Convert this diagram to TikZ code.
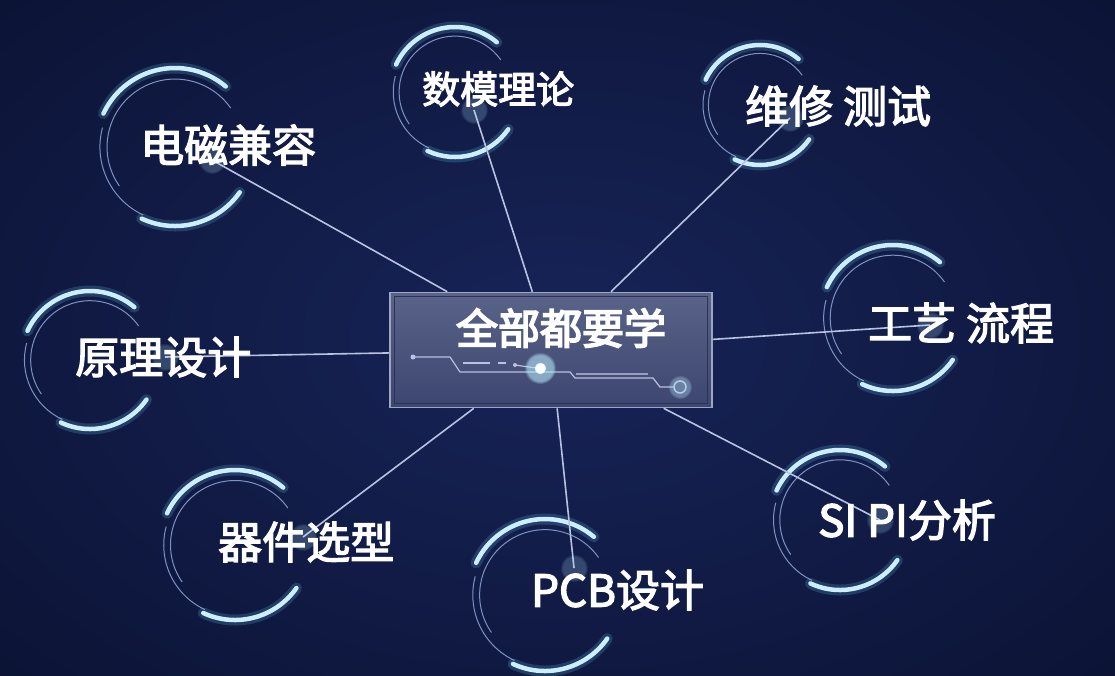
\documentclass[tikz,border=0pt]{standalone}
\usepackage{fontspec}
\usetikzlibrary{fadings}
\newfontfamily\cjk{Noto Sans CJK SC}[FakeBold=3]
\newfontfamily\titlefont{Noto Sans CJK SC}[FakeBold=4]

\definecolor{bgdeep}{HTML}{060B24}
\definecolor{bgmid}{HTML}{172458}
\definecolor{ringcol}{HTML}{CDEEFF}
\definecolor{ringthin}{HTML}{8FA8DA}
\definecolor{wirecol}{HTML}{B9C2E2}
\definecolor{boxtop}{HTML}{5A6388}
\definecolor{boxbot}{HTML}{3C4670}
\definecolor{boxedge}{HTML}{2A3358}

\tikzset{
  ringthick/.style={line width=4.5pt, draw=ringcol, line cap=round},
  ringhalo/.style={line width=11pt, draw=cyan!60!white, opacity=0.2, line cap=round},
  ringfine/.style={line width=1pt, draw=ringthin, opacity=0.85},
  tag/.style={anchor=west, inner sep=0pt, text=white, font=\cjk\fontsize{44}{44}\selectfont},
  wire/.style={draw=wirecol, line width=1.6pt},
  trace/.style={draw=wirecol, line width=1.2pt},
  glow/.style={fill=cyan!30!white, path fading=circle with fuzzy edge 20 percent},
  hubbox/.style={draw=wirecol!85!black, line width=1.6pt, top color=boxtop, bottom color=boxbot,
    minimum width=322pt, minimum height=115pt, inner sep=0pt},
}

\begin{document}
\begin{tikzpicture}[x=1pt, y=-1pt]
  \useasboundingbox (0,0) rectangle (1115,675);
  \fill[bgdeep] (0,0) rectangle (1115,675);
  \begin{scope}
    \clip (0,0) rectangle (1115,675);
    \shade[inner color=bgmid, outer color=bgdeep] (-600,-400) rectangle (1715,1075);
  \end{scope}

  % rings
  \foreach \cx/\cy/\r in {175/147/79, 455/92/65, 760/105/60, 893/318/73,
                          90/360/69, 235/545/75, 545/595/76, 840/520/70} {
    \pgfmathsetmacro\ra{0.86*\r}
    \pgfmathsetmacro\rb{0.95*\r}
    \draw[ringhalo] (\cx,\cy) ++(-50:\r) arc (-50:-155:\r);
    \draw[ringhalo] (\cx,\cy) ++(-245:\r) arc (-245:-325:\r);
    \draw[ringthick] (\cx,\cy) ++(-50:\r) arc (-50:-155:\r);
    \draw[ringthick] (\cx,\cy) ++(-245:\r) arc (-245:-325:\r);
    \draw[ringfine] (\cx,\cy) ++(-35:\ra) arc (-35:-215:\ra);
    \draw[ringfine] (\cx,\cy) ++(-165:\rb) arc (-165:-245:\rb);
  }

  \node[hubbox] (hub) at (551,350) {};
  \draw[boxedge, line width=1pt] ([shift={(5,5)}]hub.north west) rectangle ([shift={(-5,-5)}]hub.south east);

  % circuit inside the box
  \fill[wirecol] (413,357) circle (2.5);
  \draw[trace] (413,357) -- (450,357) -- (460,372) -- (570,372) -- (575,378) -- (653,378) -- (660,387) -- (674,387);
  \draw[trace, opacity=0.7] (576,374) -- (648,374);
  \draw[trace, line width=2pt] (463,363) -- (490,363) (498,363) -- (506,363);
  \fill[wirecol] (515,365) circle (2);
  \draw[trace] (515,365) -- (536,368);
  \draw[wirecol, line width=1.5pt] (680,387) circle (6);
  \fill[glow, opacity=0.35] (680,387) circle (12);
  \fill[glow, opacity=0.6] (540,368) circle (16);
  \fill[white, path fading=circle with fuzzy edge 20 percent] (540,368) circle (6);

  \node[text=white, inner sep=0pt, font=\titlefont\fontsize{42}{42}\selectfont] (title) at (561,328) {全部都要学};

  % connector ends
  \coordinate (emc-end) at (212,160);
  \coordinate (adt-end) at (474,110);
  \coordinate (rep-end) at (790,118);
  \coordinate (craft-end) at (930,325);
  \coordinate (schem-end) at (165,357);
  \coordinate (parts-end) at (303,537);
  \coordinate (pcb-end) at (574,568);
  \coordinate (sipi-end) at (880,520);

  \path[wire]
    (hub) edge (emc-end)
    (hub) edge (adt-end)
    (hub) edge (rep-end)
    (hub) edge (craft-end)
    (hub) edge (schem-end)
    (hub) edge (parts-end)
    (hub) edge (pcb-end)
    (hub) edge (sipi-end);

  \foreach \p in {emc-end, adt-end, rep-end, craft-end, schem-end, parts-end, pcb-end, sipi-end}
    \fill[glow, opacity=0.22] (\p) circle (14);

  \node[tag] (emc) at (140,145) {电磁兼容};
  \node[tag, font=\cjk\fontsize{38}{38}\selectfont] (adt) at (422,89) {数模理论};
  \node[tag] (rep) at (745,106) {维修 测试};
  \node[tag] (craft) at (868,323) {工艺 流程};
  \node[tag] (schem) at (75,357) {原理设计};
  \node[tag] (parts) at (218,542) {器件选型};
  \node[tag] (pcb) at (531,590) {PCB设计};
  \node[tag] (sipi) at (818,520) {SI PI分析};
\end{tikzpicture}
\end{document}
